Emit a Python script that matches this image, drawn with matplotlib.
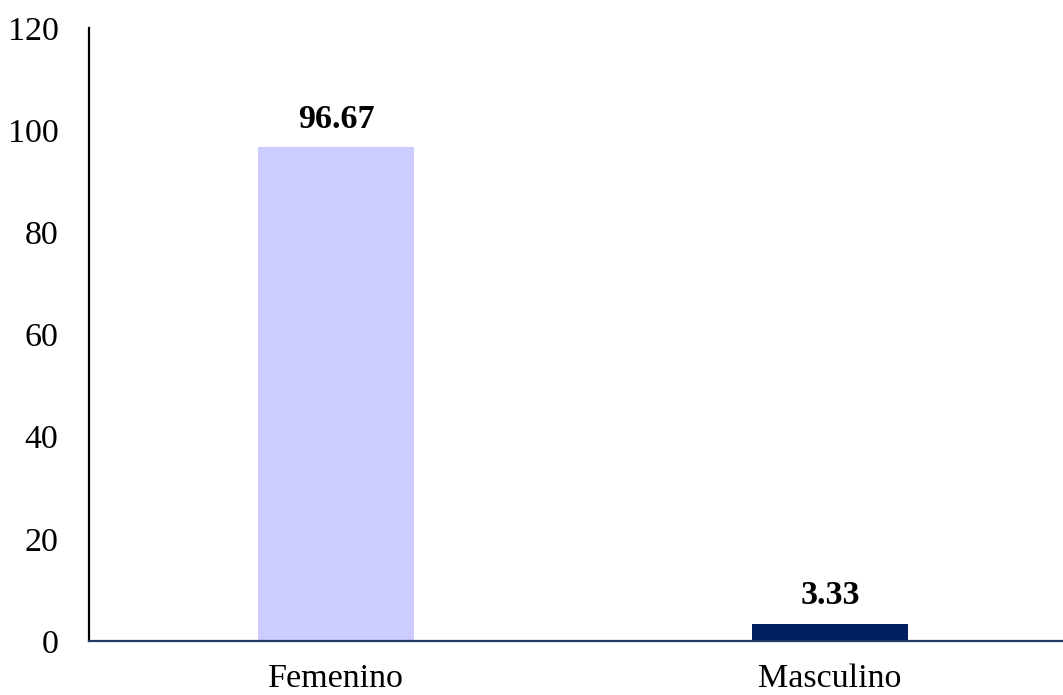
import matplotlib.pyplot as plt

categories = ["Femenino", "Masculino"]
values = [96.67, 3.33]
bar_colors = ["#CCCCFF", "#002060"]
yticks = [0, 20, 40, 60, 80, 100, 120]

plt.rcParams['font.family'] = ['Liberation Serif', 'DejaVu Serif']

fig = plt.figure(figsize=(10.63, 6.95), dpi=100)
ax = fig.add_axes([89 / 1063, 54 / 695, 988 / 1063, 613 / 695])

x = list(range(len(categories)))
ax.bar(x, values, width=0.314, color=bar_colors, zorder=2)

for xi, v in zip(x, values):
    ax.annotate(f"{v:.2f}", (xi, v), xytext=(0, 9), textcoords="offset points",
                ha="center", va="bottom", fontsize=24.5, fontweight="bold")

ax.set_xlim(-0.5, 1.5)
ax.set_ylim(0, 120)
ax.set_yticks(yticks)
ax.set_xticks(x)
ax.set_xticklabels(categories)
ax.tick_params(axis="both", length=0, labelsize=24.5)
ax.tick_params(axis="x", pad=16)
ax.tick_params(axis="y", pad=22)

for side in ("top", "right"):
    ax.spines[side].set_visible(False)
ax.spines["left"].set_color("black")
ax.spines["left"].set_linewidth(1.6)
ax.spines["bottom"].set_color("#1F3864")
ax.spines["bottom"].set_linewidth(1.6)

fig.savefig("out.png", dpi=100)
